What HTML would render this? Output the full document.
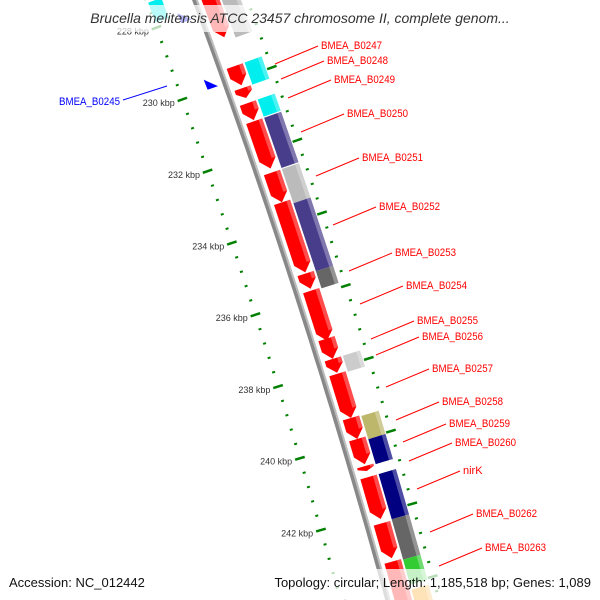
<!DOCTYPE html>
<html><head><meta charset="utf-8"><style>
html,body{margin:0;padding:0;background:#fff;overflow:hidden;}
svg{display:block;font-family:"Liberation Sans",sans-serif;}
</style></head><body>
<svg id="map" width="600" height="600" viewBox="0 0 600 600" xmlns="http://www.w3.org/2000/svg">
<g id="ticks"></g>
<g id="backbone"></g>
<g id="feats"></g>
<g id="labels"></g>
<rect x="0" y="5" width="600" height="27" fill="#fff" fill-opacity="0.72"/>
<text x="300" y="23" text-anchor="middle" font-size="14" font-style="italic" fill="#333">Brucella melitensis ATCC 23457 chromosome II, complete genom...</text>
<rect x="0" y="569" width="600" height="31" fill="#fff" fill-opacity="0.72"/>
<text x="9" y="587" font-size="13" fill="#111">Accession: NC_012442</text>
<text x="591" y="587" font-size="13" fill="#111" text-anchor="end">Topology: circular; Length: 1,185,518 bp; Genes: 1,089</text>
</svg>
<script>
// ---- data (kbp) ----
const fwdStarts = [227.07,229.66,230.28,230.70,231.21,232.65,233.49,235.49,235.97,237.32,237.89,238.31,239.55,240.14,240.90,241.21,242.51,243.58];
const fwdEnds   = [228.85,230.20,230.56,231.18,232.54,233.49,235.46,235.92,237.38,237.89,238.28,239.55,240.14,240.85,241.04,242.39,243.49,245.10];
const colStarts = [227.07,229.66,230.70,231.21,232.65,233.61,235.52,237.89,239.58,240.23,241.21,242.48,243.61,244.45];
const colEnds   = [228.96,230.28,231.18,232.62,233.61,235.52,236.00,238.34,240.23,240.93,242.48,243.61,244.31,245.15];
const colColors = ["#bbbbbb","#00eeee","#00eeee","#483d8b","#bbbbbb","#483d8b","#666666","#cccccc","#bdb76b","#000080","#000080","#666666","#33cc33","#ff9900"];
const tickMajors = [228,230,232,234,236,238,240,242,244];
const tickLabels = ["228 kbp","230 kbp","232 kbp","234 kbp","236 kbp","238 kbp","240 kbp","242 kbp",""];
const labelNames = ["BMEA_B0247","BMEA_B0248","BMEA_B0249","BMEA_B0250","BMEA_B0251","BMEA_B0252","BMEA_B0253","BMEA_B0254","BMEA_B0255","BMEA_B0256","BMEA_B0257","BMEA_B0258","BMEA_B0259","BMEA_B0260","nirK","BMEA_B0262","BMEA_B0263"];
const labelX = [321,327,334,347,362,379,395,406,417,422,432,442,449,455,463,476,485];
const labelY = [49,64,83,117,161,210,256,289,324,340,372,405,427,446,474,517,551];

const NS="http://www.w3.org/2000/svg";
function sOf(k){return 84+(k-230)*35.5;}
function sTick(k){return 85+(k-230)*36.1;}
function bx(s){return 192+0.37*s-0.00008*s*s;}
function P(s,d){const t=0.37-0.00016*s;const n=Math.sqrt(1+t*t);return [bx(s)+d/n, s-d*t/n];}
function mk(tag,attrs,parent){const e=document.createElementNS(NS,tag);for(const k in attrs)e.setAttribute(k,attrs[k]);parent.appendChild(e);return e;}
function pts(a){return a.map(p=>p[0].toFixed(1)+","+p[1].toFixed(1)).join(" ");}

// backbone
const bb=document.getElementById('backbone');
let line1=[],line2=[];
for(let s=-30;s<=640;s+=10){line1.push(P(s,2));line2.push(P(s,4.5));}
let e=mk('polyline',{points:pts(line1),fill:'none',stroke:'#888','stroke-width':4},bb);


e=mk('polyline',{points:pts(line2),fill:'none',stroke:'#bdbdbd','stroke-width':2},bb);



// ticks
const tk=document.getElementById('ticks');
for(let i=0;i<=45;i++){
  const k=227.2+i*0.4; const s=sTick(k);
  const major=tickMajors.some(m=>Math.abs(m-k)<0.05);
  const L=major?5:1.5, w=major?2.5:2;
  for(const d of [-43,52]){
    const a=P(s,d-L),b=P(s,d+L);
    e=mk('line',{x1:a[0],y1:a[1],x2:b[0],y2:b[1],stroke:'#008000','stroke-width':w},tk);
    
    
  }
}
tickMajors.forEach((m,i)=>{
  if(!tickLabels[i])return;
  const p=P(sTick(m),-51);
  e=mk('text',{x:p[0].toFixed(1),y:(p[1]+4).toFixed(1),'text-anchor':'end','font-size':9,fill:'#333'},tk);
  e.textContent=tickLabels[i];
  
  
});

// features
const fg=document.getElementById('feats');
function feature(k1,k2,d1,d2,color,arrow,name){
  const s1=sOf(k1),s2=sOf(k2);
  const h=arrow?Math.min(9,(s2-s1)*0.6):0;
  let poly=[P(s1,d1),P(s2-h,d1)];
  if(arrow)poly.push(P(s2,(d1+d2)/2));
  poly.push(P(s2-h,d2),P(s1,d2));
  const el=mk('polygon',{points:pts(poly),fill:color},fg);
  
  
  const hl=[P(s1,d2-4),P(s2-h,d2-4),P(s2-h,d2),P(s1,d2)];
  const h2=mk('polygon',{points:pts(hl),fill:'#fff','fill-opacity':0.3},fg);
  
  
}
fwdStarts.forEach((st,i)=>feature(st,fwdEnds[i],9,26,'#ff0000',true,'forward-gene'));
colStarts.forEach((st,i)=>feature(st,colEnds[i],28,46,colColors[i],false,'cog-feature'));
function tri(s,d,name,color){const a=P(s-6,d),b=P(s+4,d-6),c=P(s+4,d+5);
  const el=mk('polygon',{points:pts([[a[0]-6,a[1]+2],b,c]),fill:color},fg);
  
  }
tri(sOf(229.9),-10,'reverse-gene-b0245','#0000ff');
tri(sOf(228.0),-12,'reverse-gene-top','#0000ff');
e=mk('polygon',{points:pts([P(-12,-42),P(8,-42),P(8,-28),P(-12,-28)]),fill:'#00eeee'},fg);



// labels
const lg=document.getElementById('labels');
labelNames.forEach((n,i)=>{
  const x=labelX[i],y=labelY[i];
  let l=mk('line',{x1:x-46,y1:y+15,x2:x-3,y2:y-3,stroke:'#ff0000','stroke-width':1},lg);
  
  
  let t=mk('text',{x:x,y:y,'font-size':11,fill:'#ff0000',textLength:61,lengthAdjust:'spacingAndGlyphs'},lg);
  if(n==='nirK'){t.removeAttribute('textLength');t.removeAttribute('lengthAdjust');}
  t.textContent=n;
  
  
});
let bl=mk('line',{x1:123,y1:100,x2:167,y2:86,stroke:'#0000ff','stroke-width':1},lg);


let bt=mk('text',{x:59,y:105,'font-size':11,fill:'#0000ff',textLength:61,lengthAdjust:'spacingAndGlyphs'},lg);
bt.textContent='BMEA_B0245';


</script>
</body></html>
